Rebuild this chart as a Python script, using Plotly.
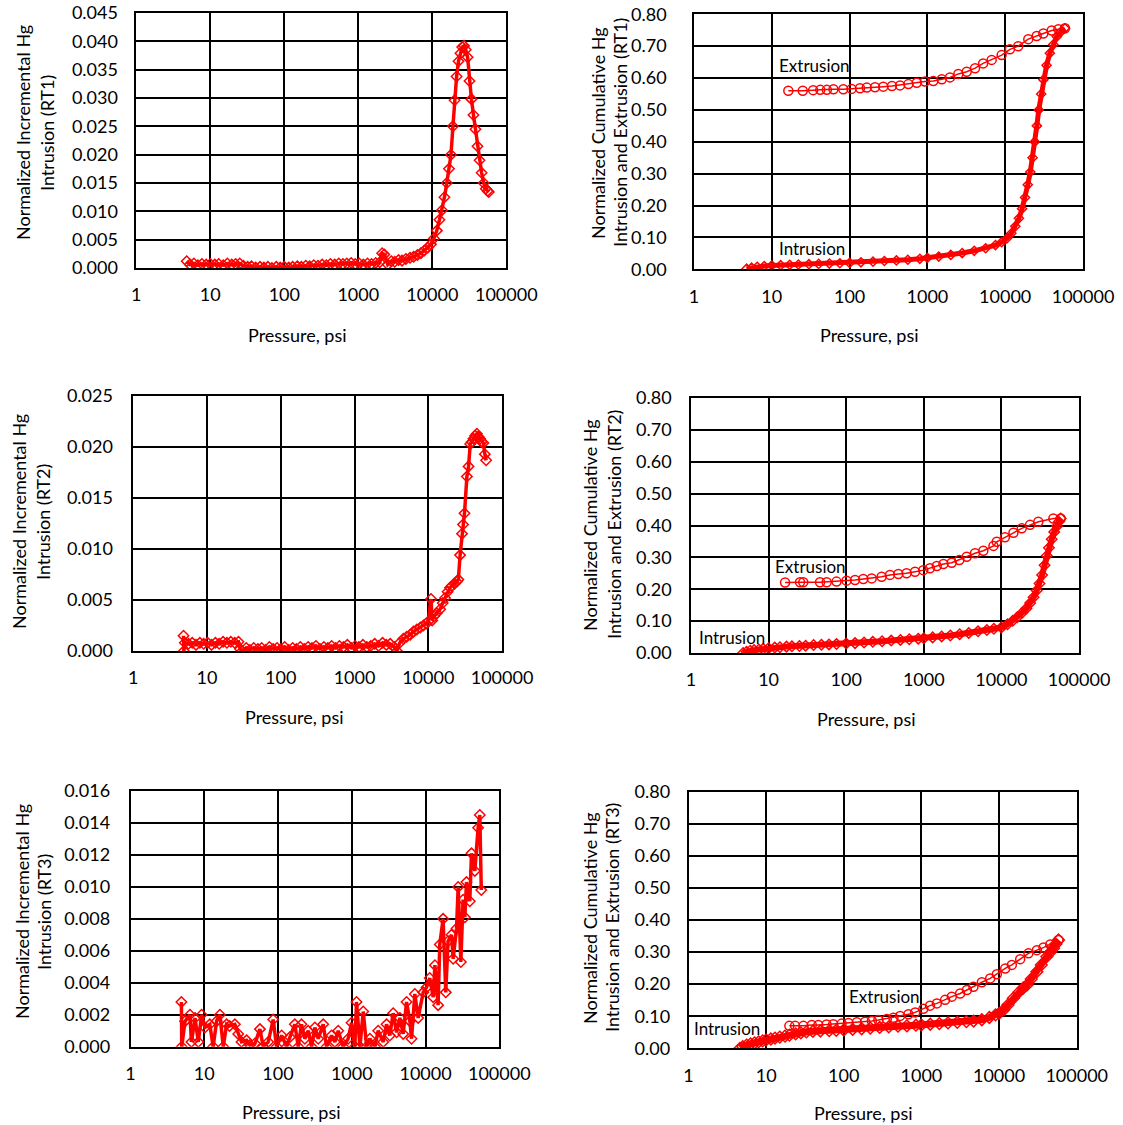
import plotly.graph_objects as go

W, H = 1123, 1125
RED = "#FF0000"
FONT = "Lato"

# ---------------- data ----------------
x_tick_vals = [1, 10, 100, 1000, 10000, 100000]
x_tick_text = ["1", "10", "100", "1000", "10000", "100000"]

# RT1 incremental intrusion
rt1_inc_p = [4.8, 5.3, 6.0, 6.8, 7.7, 8.8, 10, 11.5, 13, 15, 17, 19.5, 22, 25, 28, 32, 36, 41, 47, 53,
             60, 68, 78, 88, 100, 115, 130, 150, 170, 195, 220, 250, 285, 325, 370, 420, 480, 545, 620,
             700, 800, 910, 1030, 1170, 1330, 1510, 1720, 1950, 2100, 2250, 2500, 2800, 3100, 3500,
             3900, 4400, 5000, 5600, 6300, 7000, 7800, 8700, 9600, 10500, 11500, 12500, 13500, 14600,
             15700, 16800, 17900, 19000, 20000, 21300, 22600, 24000, 25400, 26800, 28300, 30000,
             31800, 33800, 36000, 38300, 40800, 43500, 46400, 49500, 52800, 56000, 58000]
rt1_inc_v = [0.0012, 0.0006, 0.0008, 0.0005, 0.0007, 0.0006, 0.0007, 0.0006, 0.0007, 0.0005, 0.0008,
             0.0006, 0.0007, 0.0008, 0.0004, 0.0002, 0.0003, 0.0001, 0.0002, 0.0001, 0.0002, 0.0000,
             0.0002, 0.0001, 0.0002, 0.0001, 0.0002, 0.0003, 0.0002, 0.0004, 0.0003, 0.0005, 0.0004,
             0.0006, 0.0005, 0.0007, 0.0006, 0.0008, 0.0007, 0.0008, 0.0009, 0.0007, 0.0008, 0.0006,
             0.0008, 0.0007, 0.0009, 0.0010, 0.0026, 0.0024, 0.0006, 0.0012, 0.0011, 0.0014, 0.0013,
             0.0016, 0.0018, 0.0020, 0.0023, 0.0026, 0.0031, 0.0036, 0.0042, 0.0052, 0.0066, 0.0085,
             0.0102, 0.0125, 0.0150, 0.0175, 0.0200, 0.0250, 0.0296, 0.0338, 0.0365, 0.0379, 0.0390,
             0.0392, 0.0385, 0.0372, 0.0330, 0.0298, 0.0270, 0.0245, 0.0215, 0.0190, 0.0168, 0.0150,
             0.0140, 0.0136, 0.0134]

# RT1 cumulative intrusion / extrusion
rt1_int_p = [4.75, 5.5, 6.5, 8, 10, 13, 17, 22, 30, 40, 55, 75, 100, 140, 200, 280, 400, 560, 800, 1000,
             1400, 2000, 2800, 4000, 5600, 7500, 9000, 10500, 12000, 13500, 15000, 16500, 18000, 19500,
             21000, 22500, 24000, 25500, 27000, 29000, 31000, 34000, 37500, 41500, 46000, 52000, 58600]
rt1_int_v = [0.002, 0.005, 0.008, 0.010, 0.012, 0.013, 0.014, 0.015, 0.016, 0.017, 0.018, 0.019, 0.020,
             0.022, 0.024, 0.026, 0.028, 0.030, 0.033, 0.036, 0.040, 0.045, 0.051, 0.058, 0.066, 0.076,
             0.085, 0.097, 0.113, 0.135, 0.160, 0.190, 0.225, 0.265, 0.305, 0.350, 0.400, 0.450, 0.500,
             0.550, 0.595, 0.640, 0.678, 0.705, 0.730, 0.745, 0.756]
rt1_ext_p = [58700, 48200, 39600, 30900, 25400, 19800, 14700, 11500, 9000, 6700, 5200, 4100, 3200, 2500,
             1950, 1530, 1190, 930, 730, 570, 445, 350, 271, 212, 166, 136, 106, 83, 62, 51, 42, 34, 25,
             16.3]
rt1_ext_v = [0.756, 0.753, 0.749, 0.740, 0.732, 0.722, 0.700, 0.690, 0.672, 0.657, 0.646, 0.631, 0.620,
             0.613, 0.602, 0.596, 0.591, 0.589, 0.585, 0.581, 0.577, 0.575, 0.573, 0.571, 0.570, 0.568,
             0.566, 0.565, 0.565, 0.563, 0.563, 0.562, 0.560, 0.560]

# RT2 incremental intrusion
rt2_inc_p = [4.8, 4.85, 5.0, 5.6, 6.3, 7.1, 8.0, 9.0, 10.2, 11.5, 13, 14.6, 16.5, 18.6, 21, 23.7, 26.7,
             28, 30, 34, 38, 43, 49, 55, 62, 70, 79, 89, 100, 113, 128, 145, 163, 184, 208, 235, 265,
             300, 340, 385, 435, 490, 555, 625, 710, 800, 905, 1020, 1150, 1300, 1470, 1660, 1880,
             2120, 2400, 2700, 3050, 3450, 3750, 4100, 4600, 5100, 5700, 6300, 7000, 7800, 8600, 9400,
             10000, 10900, 11300, 12000, 13000, 14500, 15700, 16900, 18300, 19700, 21000, 22700,
             24300, 25600, 27000, 28700, 29600, 31000, 33400, 35200, 37100, 39000, 41000, 43300,
             45600, 48000, 50400, 53000, 55900, 58500, 61000]
rt2_inc_v = [0.0015, 0.0000, 0.0008, 0.0007, 0.0008, 0.0006, 0.0008, 0.0007, 0.0008, 0.0006, 0.0008,
             0.0007, 0.0009, 0.0008, 0.0009, 0.0008, 0.0009, 0.0002, 0.0000, 0.0003, 0.0001, 0.0003,
             0.0002, 0.0003, 0.0001, 0.0004, 0.0002, 0.0003, 0.0002, 0.0004, 0.0001, 0.0003, 0.0002,
             0.0004, 0.0002, 0.0004, 0.0003, 0.0005, 0.0002, 0.0004, 0.0003, 0.0005, 0.0003, 0.0005,
             0.0004, 0.0006, 0.0003, 0.0005, 0.0004, 0.0006, 0.0004, 0.0005, 0.0007, 0.0005, 0.0008,
             0.0006, 0.0007, 0.0004, 0.0000, 0.0008, 0.0012, 0.0014, 0.0016, 0.0019, 0.0021, 0.0023,
             0.0025, 0.0027, 0.0029, 0.0051, 0.0030, 0.0034, 0.0037, 0.0041, 0.0047, 0.0052, 0.0058,
             0.0062, 0.0064, 0.0066, 0.0068, 0.0070, 0.0094, 0.0115, 0.0124, 0.0135, 0.0171, 0.0181,
             0.0203, 0.0205, 0.0208, 0.0211, 0.0213, 0.0210, 0.0208, 0.0205, 0.0204, 0.0193, 0.0187]

# RT2 cumulative intrusion / extrusion
rt2_int_p = [4.7, 5.2, 5.8, 6.5, 7.5, 8.5, 10, 12, 14, 17, 20, 25, 30, 38, 48, 60, 75, 100, 130, 170,
             220, 290, 380, 500, 650, 850, 1000, 1300, 1700, 2200, 2900, 3800, 5000, 6500, 8000, 10000,
             12000, 14000, 16000, 18500, 21000, 23500, 26000, 28500, 31000, 33500, 36000, 38500, 41000,
             44500, 48000, 52000, 55000, 58100]
rt2_int_v = [0.000, 0.004, 0.007, 0.009, 0.011, 0.013, 0.015, 0.017, 0.018, 0.020, 0.021, 0.022, 0.023,
             0.025, 0.026, 0.027, 0.028, 0.030, 0.031, 0.033, 0.035, 0.037, 0.039, 0.041, 0.043, 0.045,
             0.046, 0.049, 0.052, 0.055, 0.059, 0.063, 0.068, 0.072, 0.076, 0.080, 0.090, 0.101, 0.112,
             0.126, 0.140, 0.157, 0.175, 0.196, 0.218, 0.245, 0.275, 0.305, 0.330, 0.357, 0.380, 0.398,
             0.412, 0.422]
rt2_ext_p = [58100, 46700, 29900, 23400, 18300, 14300, 11100, 8700, 7900, 5850, 4570, 3570, 2870, 2290,
             1790, 1470, 1200, 985, 770, 600, 470, 366, 286, 213, 166, 130, 101, 75, 56, 46, 28, 25.4,
             16.3]
rt2_ext_v = [0.422, 0.422, 0.412, 0.402, 0.391, 0.377, 0.363, 0.349, 0.336, 0.321, 0.313, 0.302, 0.292,
             0.283, 0.279, 0.273, 0.266, 0.260, 0.255, 0.250, 0.248, 0.245, 0.239, 0.234, 0.232, 0.229,
             0.227, 0.224, 0.222, 0.222, 0.222, 0.222, 0.221]

# RT3 incremental intrusion
rt3_inc_p = [4.9, 4.95, 5.5, 6.4, 6.7, 7.5, 8.3, 9.2, 10.2, 11.9, 13.2, 14.7, 16.3, 18.1, 20.1, 22, 26,
             28.9, 32, 37.5, 41.6, 48.6, 56.8, 63, 73.7, 86, 95.7, 112, 131, 145, 169, 188, 208, 231,
             257, 285, 316, 351, 410, 455, 532, 590, 655, 765, 894, 993, 1100, 1160, 1290, 1430, 1590,
             1760, 2060, 2280, 2670, 2960, 3280, 3640, 4050, 4490, 4980, 5530, 6130, 6460, 7160, 7940,
             9290, 10300, 11400, 12700, 13400, 14800, 15600, 17300, 18800, 20200, 22500, 23700, 26300,
             27700, 30100, 32300, 34100, 35900, 39800, 42000, 46600, 51600, 54400, 57000]
rt3_inc_v = [0.0028, 0.0000, 0.0016, 0.0020, 0.0003, 0.0018, 0.0003, 0.0020, 0.0012, 0.0014, 0.0000,
             0.0016, 0.0020, 0.0000, 0.0014, 0.0013, 0.0014, 0.0008, 0.0003, 0.0004, 0.0001, 0.0002,
             0.0011, 0.0000, 0.0003, 0.0017, 0.0000, 0.0007, 0.0000, 0.0006, 0.0014, 0.0000, 0.0014,
             0.0005, 0.0010, 0.0000, 0.0012, 0.0005, 0.0014, 0.0000, 0.0007, 0.0003, 0.0010, 0.0000,
             0.0005, 0.0015, 0.0000, 0.0028, 0.0000, 0.0022, 0.0000, 0.0005, 0.0000, 0.0010, 0.0003,
             0.0014, 0.0007, 0.0021, 0.0009, 0.0018, 0.0008, 0.0028, 0.0016, 0.0005, 0.0033, 0.0018,
             0.0034, 0.0037, 0.0043, 0.0031, 0.0051, 0.0026, 0.0064, 0.0080, 0.0034, 0.0066, 0.0070,
             0.0055, 0.0074, 0.0100, 0.0053, 0.0092, 0.0081, 0.0103, 0.0091, 0.0121, 0.0110, 0.0137,
             0.0145, 0.0098]

# RT3 cumulative intrusion / extrusion
rt3_int_p = [4.6, 5.0, 5.6, 6.3, 7.1, 8.0, 9.0, 10, 11.5, 13, 15, 17.5, 20, 24, 28, 33, 40, 50, 65, 80,
             100, 130, 170, 220, 290, 380, 500, 650, 850, 1000, 1300, 1700, 2200, 2900, 3800, 4700,
             6000, 7500, 9000, 10000, 11500, 13000, 15300, 18000, 20500, 22800, 26000, 30700, 35000,
             41300, 46000, 50300, 54000, 58300]
rt3_int_v = [0.000, 0.005, 0.010, 0.014, 0.017, 0.020, 0.023, 0.026, 0.029, 0.032, 0.035, 0.038, 0.041,
             0.045, 0.048, 0.051, 0.053, 0.054, 0.055, 0.056, 0.057, 0.059, 0.061, 0.063, 0.065, 0.067,
             0.069, 0.070, 0.072, 0.073, 0.075, 0.077, 0.079, 0.081, 0.083, 0.085, 0.089, 0.096, 0.104,
             0.109, 0.120, 0.135, 0.156, 0.175, 0.188, 0.197, 0.216, 0.239, 0.260, 0.286, 0.300, 0.312,
             0.325, 0.338]
rt3_ext_p = [58300, 45600, 37300, 30700, 23900, 18700, 14600, 12000, 9360, 7680, 6000, 4680, 3850, 3150,
             2460, 2020, 1580, 1290, 1060, 830, 680, 532, 436, 358, 279, 230, 188, 147, 115, 94, 73, 60,
             47, 38.7, 30.2, 23.6, 19.9]
rt3_ext_v = [0.338, 0.324, 0.314, 0.306, 0.296, 0.278, 0.260, 0.249, 0.231, 0.218, 0.206, 0.192, 0.182,
             0.171, 0.161, 0.151, 0.140, 0.133, 0.123, 0.112, 0.106, 0.101, 0.095, 0.091, 0.088, 0.085,
             0.083, 0.081, 0.079, 0.077, 0.075, 0.074, 0.073, 0.073, 0.070, 0.070, 0.070]

# ---------------- layout helpers ----------------
def xd(px):
    return px / W


def yd(py):
    return 1 - py / H


# plot boxes in pixels: left, right, top, bottom
panels = [
    dict(box=(136.3, 506.3, 13, 268), ymax=0.045, dtick=0.005, fmt=".3f", stand=13,
         ytitle=("Normalized Incremental Hg", "Intrusion (RT1)"), ylx=(23, 47), yly=133, xt=(297, 335)),
    dict(box=(694, 1083, 14.3, 269.3), ymax=0.80, dtick=0.10, fmt=".2f", stand=22,
         ytitle=("Normalized Cumulative Hg", "Intrusion and Extrusion (RT1)"), ylx=(598, 620), yly=133,
         xt=(869, 335)),
    dict(box=(133.3, 502, 396, 651), ymax=0.025, dtick=0.005, fmt=".3f", stand=15,
         ytitle=("Normalized Incremental Hg", "Intrusion (RT2)"), ylx=(19, 43), yly=522, xt=(294, 717)),
    dict(box=(691, 1079, 398, 653), ymax=0.80, dtick=0.10, fmt=".2f", stand=14,
         ytitle=("Normalized Cumulative Hg", "Intrusion and Extrusion (RT2)"), ylx=(590, 614), yly=525,
         xt=(866, 719)),
    dict(box=(130.5, 499.3, 791, 1046.7), ymax=0.016, dtick=0.002, fmt=".3f", stand=15,
         ytitle=("Normalized Incremental Hg", "Intrusion (RT3)"), ylx=(22, 44), yly=912, xt=(291, 1112)),
    dict(box=(688.5, 1076.7, 791.7, 1048.3), ymax=0.80, dtick=0.10, fmt=".2f", stand=13,
         ytitle=("Normalized Cumulative Hg", "Intrusion and Extrusion (RT3)"), ylx=(590, 612), yly=918,
         xt=(863, 1113)),
]

fig = go.Figure()

tick_font = dict(family=FONT, size=18, color="#000")
layout = dict(
    template="none",
    width=W, height=H, margin=dict(l=0, r=0, t=0, b=0, pad=0),
    paper_bgcolor="white", plot_bgcolor="white", showlegend=False,
    font=dict(family=FONT, size=18, color="#000"),
)
annotations = []

for i, p in enumerate(panels, start=1):
    l, r, t, b = p["box"]
    sx = "" if i == 1 else str(i)
    layout["xaxis" + sx] = dict(
        type="log", range=[0, 5], domain=[xd(l), xd(r)], anchor="y" + sx, automargin=False,
        tickvals=x_tick_vals, ticktext=x_tick_text, ticks="", tickfont=tick_font,
        ticklabelstandoff=10,
        showgrid=True, gridcolor="#000", gridwidth=1.5,
        showline=True, mirror=True, linecolor="#000", linewidth=1.5, zeroline=False,
    )
    layout["yaxis" + sx] = dict(
        range=[0, p["ymax"]], domain=[yd(b), yd(t)], anchor="x" + sx, automargin=False,
        dtick=p["dtick"], tick0=0, tickformat=p["fmt"], ticks="", tickfont=tick_font,
        ticklabelstandoff=p["stand"],
        showgrid=True, gridcolor="#000", gridwidth=1.5,
        showline=True, mirror=True, linecolor="#000", linewidth=1.5, zeroline=False,
    )
    # y-axis title, two rotated lines
    for line, lx in zip(p["ytitle"], p["ylx"]):
        annotations.append(dict(
            text=line, x=xd(lx), y=yd(p["yly"]), xref="paper", yref="paper",
            xanchor="center", yanchor="middle", textangle=-90, showarrow=False,
            font=dict(family=FONT, size=18, color="#000"),
        ))
    # x-axis title
    annotations.append(dict(
        text="Pressure, psi", x=xd(p["xt"][0]), y=yd(p["xt"][1]), xref="paper", yref="paper",
        xanchor="center", yanchor="middle", showarrow=False,
        font=dict(family=FONT, size=18, color="#000"),
    ))

layout["annotations"] = annotations
fig.update_layout(**layout)

inc_marker = dict(symbol="diamond-open", size=8, color=RED, line=dict(width=1.5, color=RED))
ext_marker = dict(symbol="circle-open", size=9, color=RED, line=dict(width=1.5, color=RED))


def add_inc(px_, py_, ax):
    fig.add_trace(go.Scatter(x=px_, y=py_, mode="lines+markers", xaxis="x" + ax, yaxis="y" + ax,
                             line=dict(color=RED, width=3.5), marker=inc_marker))


def add_cum(ip, iv, ep, ev, ax, band):
    fig.add_trace(go.Scatter(x=ip, y=iv, mode="lines+markers", xaxis="x" + ax, yaxis="y" + ax,
                             line=dict(color=RED, width=band),
                             marker=dict(symbol="diamond-open", size=band + 2, color=RED,
                                         line=dict(width=1.5, color=RED))))
    fig.add_trace(go.Scatter(x=ep, y=ev, mode="lines+markers", xaxis="x" + ax, yaxis="y" + ax,
                             line=dict(color=RED, width=1.5), marker=ext_marker))


add_inc(rt1_inc_p, rt1_inc_v, "")
add_cum(rt1_int_p, rt1_int_v, rt1_ext_p, rt1_ext_v, "2", 5)
add_inc(rt2_inc_p, rt2_inc_v, "3")
add_cum(rt2_int_p, rt2_int_v, rt2_ext_p, rt2_ext_v, "4", 6)
add_inc(rt3_inc_p, rt3_inc_v, "5")
add_cum(rt3_int_p, rt3_int_v, rt3_ext_p, rt3_ext_v, "6", 7)

# curve labels inside the cumulative panels (x in log10 units)
curve_labels = [
    ("Extrusion", 1.08, 0.638, "2"), ("Intrusion", 1.08, 0.064, "2"),
    ("Extrusion", 1.07, 0.270, "4"), ("Intrusion", 0.09, 0.050, "4"),
    ("Extrusion", 2.055, 0.160, "6"), ("Intrusion", 0.058, 0.063, "6"),
]
for txt, lx, ly, ax in curve_labels:
    fig.add_annotation(text=txt, x=lx, y=ly, xref="x" + ax, yref="y" + ax, xanchor="left",
                       yanchor="middle", showarrow=False, borderpad=0,
                       font=dict(family=FONT, size=17, color="#000"))

fig.write_html("out.html")
